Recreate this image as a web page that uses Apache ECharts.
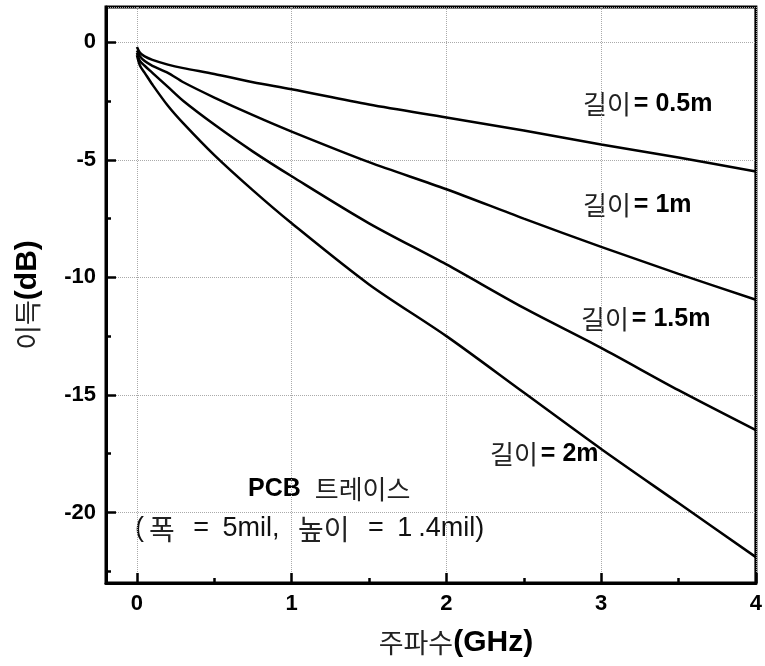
<!DOCTYPE html>
<html style="height: 100%">
<head>
    <meta charset="utf-8">
</head>
<body style="height: 100%; margin: 0; background: #fff">
<div id="container" style="width: 765px; height: 666px"></div>
<script type="text/javascript" src="https://cdn.jsdelivr.net/npm/echarts@6/dist/echarts.min.js"></script>
<script type="text/javascript">
  // frequency (GHz) and gain (dB)
  const freq = [0, 0.02, 0.05, 0.1, 0.2, 0.3, 0.5, 0.75, 1, 1.5, 2, 2.5, 3, 3.5, 4];
  const gain05 = [-0.2, -0.45, -0.6, -0.75, -0.95, -1.1, -1.35, -1.7, -2.0, -2.65, -3.2, -3.75, -4.35, -4.9, -5.5];
  const gain1 = [-0.35, -0.6, -0.8, -1.0, -1.3, -1.7, -2.35, -3.1, -3.8, -5.1, -6.25, -7.5, -8.7, -9.85, -10.95];
  const gain15 = [-0.45, -0.8, -1.0, -1.3, -1.9, -2.5, -3.5, -4.65, -5.7, -7.7, -9.45, -11.3, -13.0, -14.8, -16.5];
  const gain2 = [-0.55, -1.0, -1.3, -1.8, -2.7, -3.45, -4.8, -6.3, -7.7, -10.3, -12.5, -14.9, -17.3, -19.6, -21.9];

  const xTicks = [0, 1, 2, 3, 4];
  const xMinor = [0.5, 1.5, 2.5, 3.5];
  const yTicks = [-20, -15, -10, -5, 0];
  const yMinor = [-22.5, -17.5, -12.5, -7.5, -2.5];

  const latin = '"Liberation Sans", Arial, sans-serif';
  const korean = '"Noto Sans CJK KR", sans-serif';

  function pairs(ys) {
    return freq.map((f, i) => [f, ys[i]]);
  }

  function curve(ys) {
    return {
      type: 'line',
      data: pairs(ys),
      showSymbol: false,
      smooth: 0.3,
      lineStyle: { color: '#000', width: 2.5 },
      animation: false
    };
  }

  // axis with line, labels and dotted grid, no ticks
  function mainAxis(min, max, values) {
    return {
      type: 'value', min: min, max: max,
      axisLine: { show: true, onZero: false, lineStyle: { color: '#000', width: 3 } },
      axisTick: { show: false },
      axisLabel: { color: '#000', fontFamily: latin, fontWeight: 'bold', fontSize: 22, margin: 10, customValues: values },
      splitLine: { show: true, lineStyle: { color: '#aaa', type: 'dotted', width: 1 } }
    };
  }

  // axis that only draws inward ticks at given values
  function tickAxis(min, max, pos, values, len) {
    return {
      type: 'value', min: min, max: max, position: pos,
      axisLine: { show: false, onZero: false },
      axisTick: { show: true, inside: true, length: len, customValues: values, lineStyle: { color: '#000', width: 2.5 } },
      axisLabel: { show: false },
      splitLine: { show: false }
    };
  }

  function lengthLabel(x, y, len) {
    return {
      type: 'text', left: x, top: y - 16,
      style: {
        text: '{k|길이}{b|= ' + len + '}',
        rich: {
          k: { fontFamily: korean, fontSize: 26, fill: '#222', padding: [0, 3, 0, 0] },
          b: { fontFamily: latin, fontWeight: 'bold', fontSize: 25, fill: '#000' }
        }
      }
    };
  }

  var dom = document.getElementById('container');
  var myChart = echarts.init(dom);

  const nameRich = {
    k: { fontFamily: korean, fontSize: 27, color: '#222' },
    b: { fontFamily: latin, fontWeight: 'bold', fontSize: 30, color: '#000' }
  };

  const xMain = mainAxis(-0.2, 4, xTicks);
  xMain.name = '{k|주파수}{b|(GHz)}';
  xMain.nameLocation = 'middle';
  xMain.nameGap = 45;
  xMain.nameTextStyle = { rich: nameRich, padding: [0, 0, 0, 50] };

  const yMain = mainAxis(-23, 1.5, yTicks);
  yMain.name = '{k|이득}{b|(dB)}';
  yMain.nameLocation = 'middle';
  yMain.nameGap = 63;
  yMain.nameRotate = 90;
  yMain.nameTextStyle = { rich: nameRich };

  const noteRich = {
    a: { fontFamily: latin, fontSize: 27, fill: '#111' },
    k: { fontFamily: korean, fontSize: 28, fill: '#222', padding: [0, 5, 0, 5] },
    s: { fontFamily: latin, fontSize: 27, fill: '#111', padding: [0, 3, 0, 3] },
    o: { fontFamily: latin, fontSize: 27, fill: '#111', padding: [0, 6, 0, 0] }
  };

  var option = {
    backgroundColor: '#fff',
    grid: {
      left: 106, top: 7, right: 7, bottom: 83,
      show: true, borderColor: '#000', borderWidth: 3
    },
    xAxis: [
      xMain,
      tickAxis(-0.2, 4, 'bottom', xTicks, 10),
      tickAxis(-0.2, 4, 'bottom', xMinor, 5)
    ],
    yAxis: [
      yMain,
      tickAxis(-23, 1.5, 'left', yTicks, 10),
      tickAxis(-23, 1.5, 'left', yMinor, 5)
    ],
    series: [curve(gain05), curve(gain1), curve(gain15), curve(gain2)],
    graphic: [
      lengthLabel(583, 107, '0.5m'),
      lengthLabel(583, 208, '1m'),
      lengthLabel(581, 322, '1.5m'),
      lengthLabel(490, 457, '2m'),
      {
        type: 'text', left: 248, top: 476,
        style: {
          text: '{b|PCB }{k|트레이스}',
          rich: {
            b: { fontFamily: latin, fontWeight: 'bold', fontSize: 25, fill: '#000', padding: [0, 7, 0, 0] },
            k: { fontFamily: korean, fontSize: 26, fill: '#222' }
          }
        }
      },
      {
        type: 'text', left: 135, top: 515,
        style: {
          text: '{a|(}{k|폭}{s| }{a|=}{s| }{a|5mil,}{s| }{k|높이}{s| }{a|=}{s| }{o|1}{a|.4mil)}',
          rich: noteRich
        }
      }
    ]
  };

  myChart.setOption(option);
</script>
</body>
</html>
